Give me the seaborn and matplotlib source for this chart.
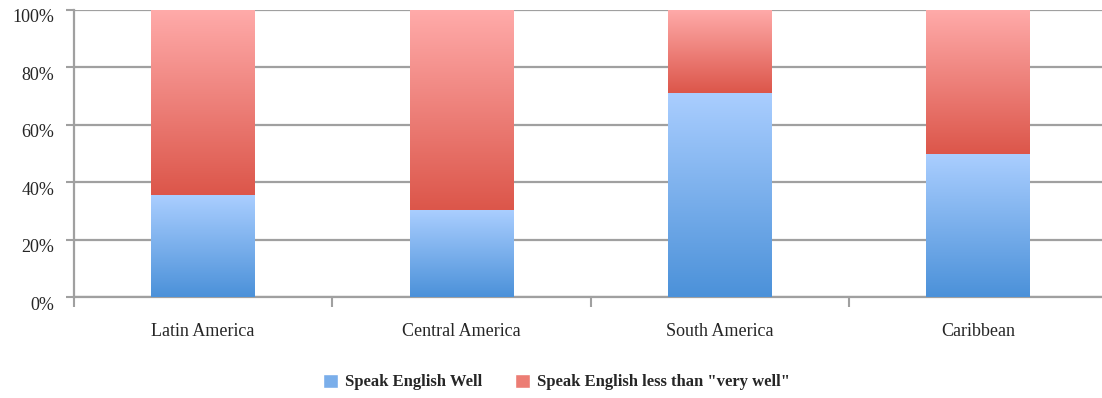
import numpy as np
import pandas as pd
import matplotlib
matplotlib.use("Agg")
import matplotlib.pyplot as plt
import matplotlib.colors as mcolors
import matplotlib.transforms as mtransforms
from matplotlib.patches import Patch
import seaborn as sns

# data (share of population, %)
regions = ["Latin America", "Central America", "South America", "Caribbean"]
speak_well = [35.5, 30.3, 71.0, 49.8]
speak_less = [100 - v for v in speak_well]

label_well = "Speak English Well"
label_less = 'Speak English less than "very well"'

sns.set_style("white")
plt.rcParams["font.family"] = ["Liberation Serif", "DejaVu Serif"]

fig = plt.figure(figsize=(11.02, 3.98), dpi=100)
ax = fig.add_axes([74 / 1102, 101 / 398, 1033 / 1102, 287 / 398])

df = pd.DataFrame({"region": regions, "well": speak_well, "less": speak_less})
sns.barplot(data=df, x="region", y="well", color="#7aaeea", width=0.4,
            ax=ax, zorder=3)
sns.barplot(data=df, x="region", y="less", bottom=df["well"], color="#ec7d74",
            width=0.4, ax=ax, zorder=3)

# gradient fills clipped to each bar
blue = mcolors.LinearSegmentedColormap.from_list("b", ["#4b91d9", "#aaceff"])
red = mcolors.LinearSegmentedColormap.from_list("r", ["#dc564a", "#ffabaa"])
grad = np.linspace(0, 1, 256).reshape(-1, 1)
n = len(regions)
for i, p in enumerate(ax.patches):
    cmap = blue if i < n else red
    x0, y0 = p.get_x(), p.get_y()
    w, h = p.get_width(), p.get_height()
    p.set_facecolor("none")
    p.set_edgecolor("none")
    im = ax.imshow(grad, cmap=cmap, origin="lower", aspect="auto",
                   extent=[x0, x0 + w, y0, y0 + h], zorder=3)
    im.set_clip_path(p)

ax.set_xlim(-0.5, n - 0.5)
ax.set_ylim(0, 100)
ax.set_xlabel("")
ax.set_ylabel("")

ax.set_yticks(range(0, 101, 20))
ax.set_yticklabels([f"{v}%" for v in range(0, 101, 20)], fontsize=13)
ax.yaxis.grid(True, color="#a0a0a0", linewidth=1.6, zorder=0)
ax.set_axisbelow(True)

ax.set_xticks(range(n))
ax.set_xticklabels(regions, fontsize=13)
ax.set_xticks(np.arange(-0.5, n, 1), minor=True)
ax.tick_params(axis="x", which="major", length=0, pad=19)
ax.tick_params(axis="x", which="minor", length=7, width=1.5, color="#a0a0a0",
               direction="out", bottom=True)
ax.tick_params(axis="y", length=6, width=1.5, color="#a0a0a0",
               direction="out", left=True, pad=8)

# labels sit a little below their gridlines in the original
shift = mtransforms.ScaledTranslation(0, -6 / 100, fig.dpi_scale_trans)
for lab in ax.get_yticklabels():
    lab.set_transform(lab.get_transform() + shift)

for s in ["top", "right"]:
    ax.spines[s].set_visible(False)
ax.spines["left"].set_color("#a0a0a0")
ax.spines["left"].set_linewidth(1.6)
ax.spines["bottom"].set_color("#a0a0a0")
ax.spines["bottom"].set_linewidth(1.6)

handles = [Patch(facecolor="#7aaeea", label=label_well),
           Patch(facecolor="#ec7d74", label=label_less)]
fig.legend(handles=handles, loc="center", bbox_to_anchor=(0.505, 0.04),
           ncol=2, frameon=False, prop={"weight": "bold", "size": 12},
           handlelength=0.9, handleheight=0.9, columnspacing=2.0, handletextpad=0.4)

fig.savefig("out.png", dpi=100)
